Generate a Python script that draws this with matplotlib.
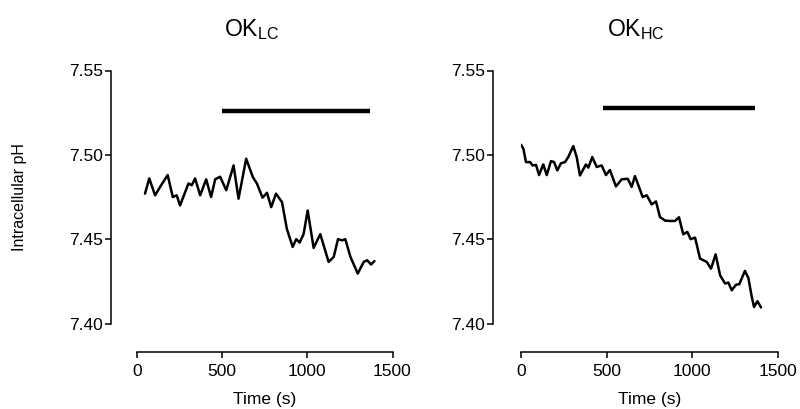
import matplotlib
matplotlib.use("Agg")
import matplotlib.pyplot as plt

plt.rcParams['font.family'] = ['Liberation Sans', 'DejaVu Sans']
plt.rcParams['mathtext.default'] = 'regular'

# OK_LC trace (time in s, intracellular pH)
lc_time = [47, 72, 106, 145, 180, 210, 233, 253, 302, 322, 341, 371, 406, 435, 459,
           488, 524, 567, 596, 641, 680, 704, 737, 763, 788, 816, 851, 880, 914, 935,
           955, 978, 1002, 1037, 1076, 1125, 1155, 1180, 1204, 1223, 1253, 1296, 1331,
           1351, 1374, 1394]
lc_ph = [7.477, 7.486, 7.476, 7.4825, 7.488, 7.475, 7.476, 7.470, 7.483, 7.482, 7.486,
         7.476, 7.4855, 7.475, 7.4855, 7.487, 7.479, 7.4937, 7.474, 7.4977, 7.4868,
         7.483, 7.4746, 7.4775, 7.469, 7.477, 7.472, 7.456, 7.4454, 7.450, 7.448, 7.453,
         7.467, 7.4448, 7.453, 7.4365, 7.4395, 7.450, 7.4493, 7.450, 7.4395, 7.4296,
         7.4365, 7.4375, 7.435, 7.437]

# OK_HC trace
hc_time = [0, 14, 29, 53, 68, 88, 105, 130, 150, 175, 193, 212, 233, 257, 276, 305, 325,
           344, 379, 393, 416, 442, 471, 496, 519, 554, 588, 623, 646, 665, 685, 710, 734,
           763, 788, 811, 841, 870, 899, 922, 947, 971, 990, 1016, 1045, 1084, 1109, 1136,
           1162, 1191, 1210, 1230, 1255, 1274, 1307, 1327, 1347, 1360, 1380, 1401]
hc_ph = [7.506, 7.5036, 7.4957, 7.4957, 7.4937, 7.494, 7.488, 7.4943, 7.488, 7.4963,
         7.4957, 7.4908, 7.495, 7.4957, 7.4987, 7.5052, 7.4987, 7.4878, 7.4943, 7.4924,
         7.4987, 7.4928, 7.4937, 7.488, 7.491, 7.4813, 7.4855, 7.4858, 7.481, 7.4874,
         7.482, 7.475, 7.476, 7.4706, 7.4724, 7.4631, 7.461, 7.4608, 7.4608, 7.463,
         7.4529, 7.4543, 7.450, 7.4509, 7.4385, 7.4365, 7.4325, 7.441, 7.4286, 7.4237,
         7.4243, 7.4197, 7.423, 7.4233, 7.4312, 7.427, 7.4158, 7.4098, 7.4132, 7.4095]

# treatment bars
lc_bar = [500, 1370, 7.5257]
hc_bar = [480, 1366, 7.5277]

titles = ['OK$_{LC}$', 'OK$_{HC}$']
x_ticks = [0, 500, 1000, 1500]
y_ticks = [7.40, 7.45, 7.50, 7.55]

fig = plt.figure(figsize=(8, 4.09), dpi=100)
ax1 = fig.add_axes([137 / 800, 85.5 / 409, 255.5 / 800, 253 / 409])
ax2 = fig.add_axes([521 / 800, 85.5 / 409, 257 / 800, 253 / 409])

panels = [(ax1, lc_time, lc_ph, lc_bar, 26), (ax2, hc_time, hc_ph, hc_bar, 28)]
for ax, t, ph, bar, off in panels:
    ax.plot(t, ph, color='black', lw=1.8, solid_joinstyle='round', solid_capstyle='round')
    ax.plot([bar[0], bar[1]], [bar[2], bar[2]], color='black', lw=3.2, solid_capstyle='butt')
    ax.set_xlim(0, 1500)
    ax.set_ylim(7.40, 7.55)
    ax.set_xticks(x_ticks)
    ax.set_yticks(y_ticks)
    ax.set_yticklabels(['%.2f' % v for v in y_ticks])
    ax.spines['top'].set_visible(False)
    ax.spines['right'].set_visible(False)
    ax.spines['left'].set_position(('outward', off * 0.72))
    ax.spines['bottom'].set_position(('outward', 28.5 * 0.72))
    ax.spines['left'].set_linewidth(1.1)
    ax.spines['bottom'].set_linewidth(1.1)
    ax.tick_params(width=1.1, length=4, labelsize=12.5)
    ax.tick_params(axis='x', pad=5)
    ax.tick_params(axis='y', pad=2)
    ax.set_xlabel('Time (s)', fontsize=12.5, labelpad=9)

ax1.set_ylabel('Intracellular pH', fontsize=11.5, labelpad=30)

fig.text(251.5 / 800, 1 - 30 / 409, titles[0], ha='center', va='center', fontsize=16.5)
fig.text(635.5 / 800, 1 - 30 / 409, titles[1], ha='center', va='center', fontsize=16.5)

fig.savefig('out.png', dpi=100)
